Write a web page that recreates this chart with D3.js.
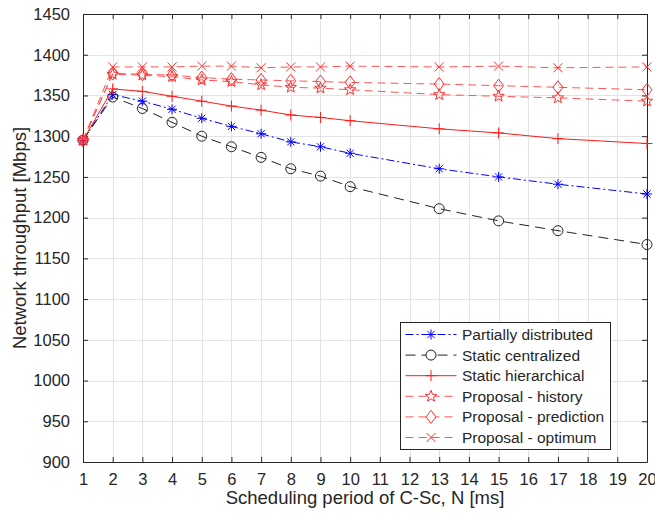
<!DOCTYPE html>
<html>
<head>
<meta charset="utf-8">
<script src="https://cdn.jsdelivr.net/npm/d3@7"></script>
<style>
  html, body { margin: 0; padding: 0; background: #fff; }
  svg { display: block; font-family: "Liberation Sans", Arial, Helvetica, sans-serif; }
</style>
</head>
<body>
<svg id="chart" width="655" height="518"></svg>
<script>
// ---------------- data ----------------
const xValues = [1, 2, 3, 4, 5, 6, 7, 8, 9, 10, 13, 15, 17, 20];
const partiallyDistributed = [1295, 1351, 1343, 1333, 1322, 1312, 1303, 1293, 1287, 1279, 1260, 1250, 1241, 1229];
const staticCentralized    = [1295, 1348, 1334, 1317, 1300, 1287, 1274, 1260, 1251, 1238, 1211, 1196, 1184, 1167];
const staticHierarchical   = [1295, 1358, 1355, 1349, 1343, 1337, 1332, 1326, 1323, 1319, 1309, 1304, 1297, 1291];
const proposalHistory      = [1295, 1376, 1375, 1373, 1369, 1367, 1363, 1360, 1359, 1357, 1351, 1349, 1347, 1343];
const proposalPrediction   = [1295, 1377, 1376, 1375, 1372, 1370, 1369, 1368, 1367, 1366, 1364, 1362, 1360, 1357];
const proposalOptimum      = [1295, 1385, 1385, 1385, 1386, 1386, 1384, 1385, 1385, 1386, 1385, 1386, 1384, 1385];
const seriesNames = ["Partially distributed", "Static centralized", "Static hierarchical",
                     "Proposal - history", "Proposal - prediction", "Proposal - optimum"];
const xTicks = d3.range(1, 21);
const yTicks = d3.range(900, 1451, 50);
const xLabel = "Scheduling period of C-Sc, N [ms]";
const yLabel = "Network throughput [Mbps]";

// ---------------- layout ----------------
const svg = d3.select("#chart");
const L = 83, R = 647, T = 14, B = 462;
const x = d3.scaleLinear().domain([1, 20]).range([L, R]);
const y = d3.scaleLinear().domain([900, 1450]).range([B, T]);
const axisColor = "#262626";
const pinkLine = "rgb(255,85,85)";
const pinkMark = "rgb(255,45,45)";

const series = [
  { name: seriesNames[0], values: partiallyDistributed, color: "#0000ff", mcolor: "#0000ff", dash: "8,3,2,3", marker: "asterisk" },
  { name: seriesNames[1], values: staticCentralized,    color: "#222222", mcolor: "#222222", dash: "10,6",    marker: "circle" },
  { name: seriesNames[2], values: staticHierarchical,   color: "#ff1a1a", mcolor: "#ff1a1a", dash: null,      marker: "plus" },
  { name: seriesNames[3], values: proposalHistory,      color: pinkLine,  mcolor: pinkMark,  dash: "8,5",     marker: "star" },
  { name: seriesNames[4], values: proposalPrediction,   color: pinkLine,  mcolor: pinkMark,  dash: "8,5",     marker: "diamond" },
  { name: seriesNames[5], values: proposalOptimum,      color: pinkLine,  mcolor: pinkMark,  dash: "8,5",     marker: "cross" }
];

// grid
const grid = svg.append("g");
grid.selectAll(".gx").data(xTicks).enter().append("line")
  .attr("x1", d => Math.round(x(d)) + 0.5).attr("x2", d => Math.round(x(d)) + 0.5)
  .attr("y1", T).attr("y2", B).attr("stroke", "#e3e3e3").attr("stroke-width", 1);
grid.selectAll(".gy").data(yTicks).enter().append("line")
  .attr("y1", d => Math.round(y(d)) + 0.5).attr("y2", d => Math.round(y(d)) + 0.5)
  .attr("x1", L).attr("x2", R).attr("stroke", "#e3e3e3").attr("stroke-width", 1);

// axes
const tickFont = 16.5;
const xAxisB = d3.axisBottom(x).tickValues(xTicks).tickSizeInner(-5).tickSizeOuter(0).tickPadding(11).tickFormat(d3.format("d"));
const xAxisT = d3.axisTop(x).tickValues(xTicks).tickSizeInner(-5).tickSizeOuter(0).tickFormat("");
const yAxisL = d3.axisLeft(y).tickValues(yTicks).tickSizeInner(-5).tickSizeOuter(0).tickPadding(13).tickFormat(d3.format("d"));
const yAxisR = d3.axisRight(y).tickValues(yTicks).tickSizeInner(-5).tickSizeOuter(0).tickFormat("");

function styleAxis(g) {
  g.selectAll("path").attr("stroke", axisColor);
  g.selectAll("line").attr("stroke", axisColor);
  g.selectAll("text").attr("fill", axisColor).style("font-size", tickFont + "px").style("font-family", "Liberation Sans, Arial, sans-serif");
}
svg.append("g").attr("transform", `translate(0,${B})`).call(xAxisB).call(styleAxis);
svg.append("g").attr("transform", `translate(0,${T})`).call(xAxisT).call(styleAxis);
svg.append("g").attr("transform", `translate(${L},0)`).call(yAxisL).call(styleAxis);
svg.append("g").attr("transform", `translate(${R},0)`).call(yAxisR).call(styleAxis);

// axis labels
svg.append("text").attr("x", (L + R) / 2).attr("y", 504).attr("text-anchor", "middle")
  .attr("fill", axisColor).style("font-size", "18.5px").text(xLabel);
svg.append("text").attr("transform", `translate(26,${(T + B) / 2}) rotate(-90)`).attr("text-anchor", "middle")
  .attr("fill", axisColor).style("font-size", "18.5px").text(yLabel);

// marker shapes
function markerPath(type) {
  const p = d3.path();
  if (type === "asterisk") {
    const r = 5;
    p.moveTo(-r, 0); p.lineTo(r, 0);
    p.moveTo(0, -r); p.lineTo(0, r);
    const q = r * 0.72;
    p.moveTo(-q, -q); p.lineTo(q, q);
    p.moveTo(-q, q); p.lineTo(q, -q);
  } else if (type === "circle") {
    const r = 5;
    p.moveTo(r, 0); p.arc(0, 0, r, 0, 2 * Math.PI);
  } else if (type === "plus") {
    const r = 5.5;
    p.moveTo(-r, 0); p.lineTo(r, 0);
    p.moveTo(0, -r); p.lineTo(0, r);
  } else if (type === "star") {
    const R0 = 6, r0 = R0 * 0.42;
    for (let i = 0; i < 10; i++) {
      const rad = i % 2 === 0 ? R0 : r0;
      const a = -Math.PI / 2 + i * Math.PI / 5;
      const px = rad * Math.cos(a), py = rad * Math.sin(a);
      if (i === 0) p.moveTo(px, py); else p.lineTo(px, py);
    }
    p.closePath();
  } else if (type === "diamond") {
    const h = 6.5, w = 5;
    p.moveTo(0, -h); p.lineTo(w, 0); p.lineTo(0, h); p.lineTo(-w, 0); p.closePath();
  } else if (type === "cross") {
    const r = 4.5;
    p.moveTo(-r, -r); p.lineTo(r, r);
    p.moveTo(-r, r); p.lineTo(r, -r);
  }
  return p.toString();
}

// series
const line = d3.line().x(d => x(d[0])).y(d => y(d[1]));
series.forEach(s => {
  const pts = xValues.map((xv, i) => [xv, s.values[i]]);
  const g = svg.append("g");
  g.append("path").datum(pts).attr("d", line).attr("fill", "none")
    .attr("stroke", s.color).attr("stroke-width", 1)
    .attr("stroke-dasharray", s.dash);
  g.selectAll(".m").data(pts).enter().append("path")
    .attr("transform", d => `translate(${x(d[0])},${y(d[1])})`)
    .attr("d", markerPath(s.marker)).attr("fill", "none")
    .attr("stroke", s.mcolor).attr("stroke-width", 1);
});

// legend
const lg = svg.append("g");
const lx0 = 400.5, ly0 = 322.5, lw = 210, lh = 127;
lg.append("rect").attr("x", lx0).attr("y", ly0).attr("width", lw).attr("height", lh)
  .attr("fill", "#fff").attr("stroke", axisColor).attr("stroke-width", 1);
series.forEach((s, i) => {
  const cy = 334.5 + i * 20.6;
  const g = lg.append("g");
  g.append("line").attr("x1", 405.5).attr("x2", 456.5).attr("y1", cy).attr("y2", cy)
    .attr("stroke", s.color).attr("stroke-width", 1).attr("stroke-dasharray", s.dash);
  g.append("path").attr("transform", `translate(431,${cy})`).attr("d", markerPath(s.marker))
    .attr("fill", s.marker === "circle" || s.marker === "diamond" || s.marker === "star" ? "#fff" : "none")
    .attr("stroke", s.mcolor).attr("stroke-width", 1);
  lg.append("text").attr("x", 462).attr("y", cy).attr("dy", "0.35em")
    .attr("fill", axisColor).style("font-size", "15.5px").text(s.name);
});
</script>
</body>
</html>
